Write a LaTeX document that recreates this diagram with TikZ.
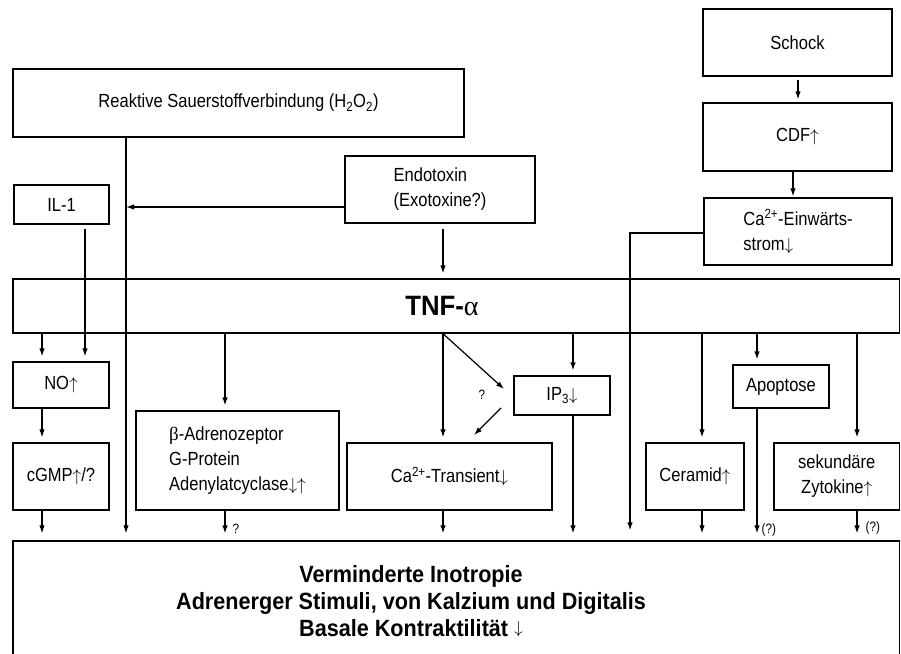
\documentclass[tikz,border=0pt]{standalone}
\usepackage{fontspec}
\setmainfont{Liberation Sans}[FakeStretch=0.87]
\newfontfamily\headfont{Liberation Sans}[FakeStretch=0.92]
\newfontfamily\greekfont{Liberation Serif}
\usetikzlibrary{arrows.meta}
\newcommand{\up}{\ensuremath{\uparrow}}
\newcommand{\dn}{\ensuremath{\downarrow}}
\newcommand{\bigdn}{\raisebox{2.5pt}{\fontsize{19}{19}\selectfont\ensuremath{\downarrow}}}
\begin{document}
\begin{tikzpicture}[x=1pt,y=-1pt,
  box/.style={draw, line width=1.3pt, inner sep=0pt, font=\fontsize{19}{25}\selectfont},
  arr/.style={line width=1.2pt, -{Latex[length=8pt,width=5.5pt]}, shorten >=5pt},
  toout/.style={arr, shorten >=7pt},
  qlabel/.style={font=\fontsize{13.5}{14}\selectfont, inner sep=0pt, anchor=west},
  headtext/.style={font=\headfont\bfseries\fontsize{23.5}{26.7}\selectfont, align=center, inner sep=0pt}
]
\useasboundingbox (0,0) rectangle (901,653);
\clip (0,0) rectangle (901,653);

% --- boxes ---
\node[box, minimum width=451pt, minimum height=68pt] (reak) at (238.5,103)
  {Reaktive Sauerstoffverbindung (H\textsubscript{2}O\textsubscript{2})};
\node[box, minimum width=95pt, minimum height=39pt] (il1) at (61.5,204.5) {IL-1};
\node[box, minimum width=190pt, minimum height=67pt, align=left] (endo) at (440,189.5)
  {Endotoxin\\(Exotoxine?)};
\node[box, minimum width=189pt, minimum height=67pt] (schock) at (797.5,42.5) {Schock};
\node[box, minimum width=189pt, minimum height=68pt] (cdf) at (797.5,137) {CDF\up};
\node[box, minimum width=188pt, minimum height=67pt, align=left] (caein) at (798,231.5)
  {Ca\textsuperscript{2+}-Einwärts-\\strom\dn};
\node[box, minimum width=886.5pt, minimum height=54pt] (tnf) at (456.25,306) {};
\node[box, minimum width=96pt, minimum height=46pt] (no) at (61,385) {NO\up};
\node[box, minimum width=96pt, minimum height=67pt] (cgmp) at (61,476.5) {cGMP\up/?};
\node[box, minimum width=203pt, minimum height=99pt, align=left] (beta) at (237.5,460.5)
  {{\greekfont β}-Adrenozeptor\\G-Protein\\Adenylatcyclase\dn\up};
\node[box, minimum width=205pt, minimum height=67pt] (catr) at (449.5,476.5)
  {Ca\textsuperscript{2+}-Transient\dn};
\node[box, minimum width=96pt, minimum height=39pt] (ip3) at (562,395.5) {IP\textsubscript{3}\dn};
\node[box, minimum width=98pt, minimum height=67pt] (ceramid) at (695,476.5) {Ceramid\up};
\node[box, minimum width=96pt, minimum height=43pt] (apop) at (781,386.5) {Apoptose};
\node[box, minimum width=125.5pt, minimum height=67pt, align=center] (sek) at (836.75,476.5)
  {sekundäre\\Zytokine\up};
\node[box, minimum width=886.5pt, minimum height=121pt] (out) at (456.25,601.5) {};

% --- texts of the two wide boxes ---
\node[inner sep=0pt, font=\headfont\bfseries\fontsize{28}{30}\selectfont] (tnftext) at (442,306)
  {TNF-{\greekfont\mdseries α}};
\node[headtext] (outtext) at (411,601.5)
  {Verminderte Inotropie\\Adrenerger Stimuli, von Kalzium und Digitalis\\Basale Kontraktilität \bigdn};

% --- columns of the connectors ---
\coordinate (xa) at (42,0);
\coordinate (xil) at (85,0);
\coordinate (xr) at (126,0);
\coordinate (xb) at (225,0);
\coordinate (xc) at (443,0);
\coordinate (xi) at (573,0);
\coordinate (xca) at (630,0);
\coordinate (xce) at (702,0);
\coordinate (xap) at (757,0);
\coordinate (xs) at (857,0);
\coordinate (xsch) at (798,0);
\coordinate (xcdf) at (793,0);
\coordinate (yen) at (0,207);
\coordinate (ycae) at (0,233);
\coordinate (d1end) at (504,389);
\coordinate (d2start) at (501,408);
\coordinate (d2end) at (474,435);

% --- connectors ---
\draw[toout] (reak.south -| xr) -- (out.north -| xr);
\draw[arr, shorten >=0pt] (endo.west |- yen) -- (xr |- yen);
\draw[arr, shorten <=5pt] (endo.south -| xc) -- (tnf.north -| xc);
\draw[arr, shorten <=4pt] (il1.south -| xil) -- (no.north -| xil);
\draw[arr, shorten <=3pt, shorten >=3pt] (schock.south -| xsch) -- (cdf.north -| xsch);
\draw[arr, shorten >=1pt] (cdf.south -| xcdf) -- (caein.north -| xcdf);
\draw[arr, shorten >=10pt] (caein.west |- ycae) -- (xca |- ycae) -- (out.north -| xca);

\draw[arr] (tnf.south -| xa) -- (no.north -| xa);
\draw[arr] (no.south -| xa) -- (cgmp.north -| xa);
\draw[toout] (cgmp.south -| xa) -- (out.north -| xa);

\draw[arr] (tnf.south -| xb) -- (beta.north -| xb);
\draw[toout] (beta.south -| xb) -- (out.north -| xb)
  node[qlabel, pos=0.6, xshift=7pt] {?};

\draw[arr] (tnf.south -| xc) -- (catr.north -| xc);
\draw[toout] (catr.south -| xc) -- (out.north -| xc);
\draw[arr, shorten >=0pt] (tnf.south -| xc) -- (d1end);
\draw[arr, shorten >=0pt] (d2start) -- (d2end);
\node[qlabel, anchor=center] (qdiag) at (482,395) {?};

\draw[arr] (tnf.south -| xi) -- (ip3.north -| xi);
\draw[toout] (ip3.south -| xi) -- (out.north -| xi);

\draw[arr] (tnf.south -| xce) -- (ceramid.north -| xce);
\draw[toout] (ceramid.south -| xce) -- (out.north -| xce);

\draw[arr] (tnf.south -| xap) -- (apop.north -| xap);
\draw[toout] (apop.south -| xap) -- (out.north -| xap)
  node[qlabel, pos=0.92, xshift=4pt] {(?)};

\draw[arr] (tnf.south -| xs) -- (sek.north -| xs);
\draw[toout] (sek.south -| xs) -- (out.north -| xs)
  node[qlabel, pos=0.6, xshift=8pt] {(?)};
\end{tikzpicture}
\end{document}
